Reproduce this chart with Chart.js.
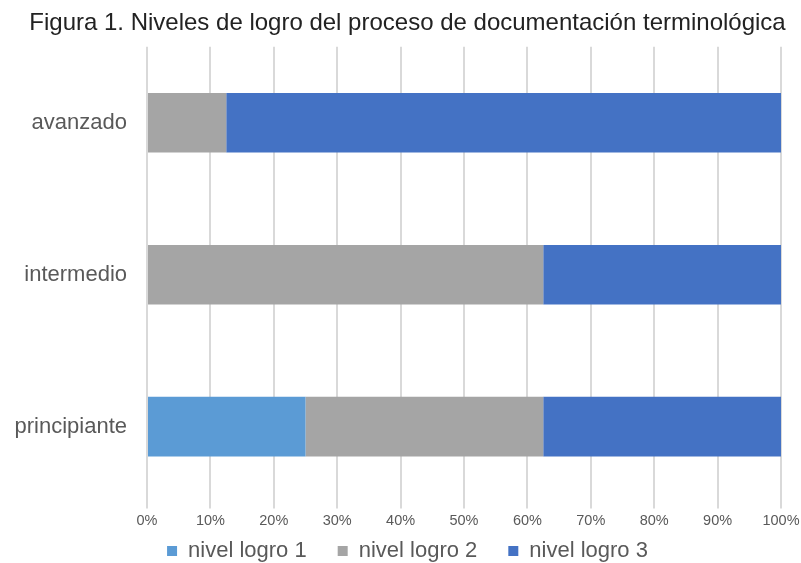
<!DOCTYPE html>
<html>
<head>
<meta charset="utf-8">
<script src="https://cdn.jsdelivr.net/npm/chart.js@4"></script>
<style>
  html, body { margin: 0; padding: 0; background: #fff; }
  #wrap { width: 801px; height: 563px; }
</style>
</head>
<body>
<div id="wrap"><canvas id="grafico"></canvas></div>
<script>
const niveles = ['avanzado', 'intermedio', 'principiante'];
const logro1 = [0, 0, 25];
const logro2 = [12.5, 62.5, 37.5];
const logro3 = [87.5, 37.5, 37.5];

const gris = '#595959';

// la leyenda usa padding 31 para separar los elementos, pero en vertical
// solo queremos unos 6 px de margen: se sube el borde superior despues del layout
const leyendaCompacta = {
    id: 'leyendaCompacta',
    afterLayout(chart) {
        const ley = chart.legend;
        ley.top -= ley.options.labels.padding - 6;
        ley.bottom = chart.height;
    }
};

new Chart(document.getElementById('grafico'), {
    type: 'bar',
    data: {
        labels: niveles,
        datasets: [
            { label: 'nivel logro 1', data: logro1, backgroundColor: '#5b9bd5' },
            { label: 'nivel logro 2', data: logro2, backgroundColor: '#a5a5a5' },
            { label: 'nivel logro 3', data: logro3, backgroundColor: '#4472c4' }
        ]
    },
    options: {
        indexAxis: 'y',
        responsive: true,
        maintainAspectRatio: false,
        animation: false,
        barPercentage: 0.8,
        categoryPercentage: 0.49,
        layout: { padding: { left: 14, right: 0, top: 0, bottom: 0 } },
        plugins: {
            title: {
                display: true,
                text: 'Figura 1. Niveles de logro del proceso de documentación terminológica',
                color: '#222',
                font: { family: 'Liberation Sans', size: 24, weight: 'normal' },
                padding: { top: 9, bottom: 9 }
            },
            legend: {
                position: 'bottom',
                maxHeight: 29,
                labels: {
                    color: gris,
                    boxWidth: 10,
                    boxHeight: 10,
                    padding: 31,
                    font: { family: 'Liberation Sans', size: 22 }
                }
            },
            tooltip: { enabled: false }
        },
        scales: {
            x: {
                stacked: true,
                min: 0,
                max: 100,
                afterFit: s => { s.paddingRight = 20; },
                ticks: {
                    stepSize: 10,
                    color: gris,
                    padding: 4,
                    font: { family: 'Liberation Sans', size: 14.5 },
                    callback: v => v + '%'
                },
                grid: { color: '#d9d9d9', tickLength: 6, lineWidth: 2 },
                border: { display: false }
            },
            y: {
                stacked: true,
                afterFit: s => { s.width = 133; },
                ticks: {
                    color: gris,
                    padding: 12,
                    font: { family: 'Liberation Sans', size: 22 }
                },
                grid: { display: false },
                border: { display: false }
            }
        }
    },
    plugins: [leyendaCompacta]
});
</script>
</body>
</html>
